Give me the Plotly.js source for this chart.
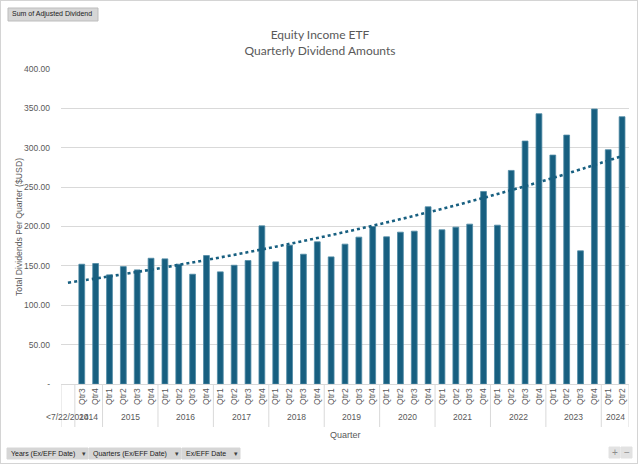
<!DOCTYPE html>
<html>
<head>
<meta charset="utf-8">
<script src="https://cdn.plot.ly/plotly-3.0.1.min.js"></script>
<style>
  html, body { margin: 0; padding: 0; background: #ffffff; }
  #wrap { position: relative; width: 640px; height: 465px; }
  #chart { width: 640px; height: 465px; }
  #frame { position: absolute; left: 0; top: 0; width: 636px; height: 462px; border: 1px solid #d4d4d4; pointer-events: none; }
</style>
</head>
<body>
<div id="wrap"><div id="chart"></div><div id="frame"></div></div>
<script>
// ---- data ----
const years = ['<7/22/2014', '2014', '2014',
  '2015', '2015', '2015', '2015',
  '2016', '2016', '2016', '2016',
  '2017', '2017', '2017', '2017',
  '2018', '2018', '2018', '2018',
  '2019', '2019', '2019', '2019',
  '2020', '2020', '2020', '2020',
  '2021', '2021', '2021', '2021',
  '2022', '2022', '2022', '2022',
  '2023', '2023', '2023', '2023',
  '2024', '2024'];
const quarters = ['', 'Qtr3', 'Qtr4',
  'Qtr1', 'Qtr2', 'Qtr3', 'Qtr4',
  'Qtr1', 'Qtr2', 'Qtr3', 'Qtr4',
  'Qtr1', 'Qtr2', 'Qtr3', 'Qtr4',
  'Qtr1', 'Qtr2', 'Qtr3', 'Qtr4',
  'Qtr1', 'Qtr2', 'Qtr3', 'Qtr4',
  'Qtr1', 'Qtr2', 'Qtr3', 'Qtr4',
  'Qtr1', 'Qtr2', 'Qtr3', 'Qtr4',
  'Qtr1', 'Qtr2', 'Qtr3', 'Qtr4',
  'Qtr1', 'Qtr2', 'Qtr3', 'Qtr4',
  'Qtr1', 'Qtr2'];
const dividends = [null, 152.1, 153.0,
  138.6, 149.1, 144.9, 159.7,
  158.9, 152.1, 139.4, 163.1,
  142.4, 150.8, 156.8, 200.8,
  155.1, 176.3, 164.8, 180.5,
  161.4, 177.6, 186.5, 200.0,
  186.9, 192.8, 194.1, 225.0,
  195.8, 199.2, 203.0, 244.5,
  201.7, 271.2, 308.5, 343.2,
  290.7, 316.1, 169.1, 349.2,
  297.5, 339.4];
// dotted trend line, read at every fifth category
const trendIndex = [0, 5, 10, 15, 20, 25, 30, 35, 40];
const trendValues = [128.6, 142.3, 157.5, 174.4, 193.0, 213.6, 236.4, 261.6, 289.5];
const yTickValues = [0, 50, 100, 150, 200, 250, 300, 350, 400];
const yTickLabels = ['-', '50.00', '100.00', '150.00', '200.00', '250.00', '300.00', '350.00', '400.00'];

const barColor = '#175f80';
const grey = '#595959';
const lineGrey = '#d9d9d9';
const font = 'Liberation Sans, Arial, sans-serif';

// unique category keys (one per year/quarter pair)
const keys = years.map((y, i) => y + '|' + quarters[i]);

const bars = {
  type: 'bar',
  x: keys,
  y: dividends,
  marker: { color: barColor, line: { color: '#4f8aa5', width: 0.8 } },
  width: 0.42,
  hoverinfo: 'y',
  showlegend: false
};
const trend = {
  type: 'scatter',
  mode: 'lines',
  x: trendIndex.map(i => keys[i]),
  y: trendValues,
  line: { color: barColor, width: 2.6, dash: 'dot', shape: 'spline' },
  hoverinfo: 'skip',
  showlegend: false
};

// plot area: x 61..629 px, y 69..384 px
const L = 61, R = 629, T = 69, B = 384;
const px = v => (v - L) / (R - L);
const py = v => (B - v) / (B - T);

// year groups -> labels and dividers
const groups = [];
years.forEach((y, i) => {
  if (!groups.length || groups[groups.length - 1].name !== y) groups.push({ name: y, start: i, end: i });
  else groups[groups.length - 1].end = i;
});

const shapes = [];
const annotations = [];
groups.forEach(g => {
  annotations.push({
    text: g.name, xref: 'x', yref: 'paper',
    x: (g.start + g.end) / 2, y: py(417), xanchor: 'center', yanchor: 'middle',
    showarrow: false, font: { family: font, size: 8.5, color: grey }
  });
  shapes.push({ type: 'line', xref: 'x', yref: 'paper', x0: g.start - 0.5, x1: g.start - 0.5,
    y0: py(384), y1: py(427), line: { color: lineGrey, width: 1 } });
});
shapes.push({ type: 'line', xref: 'x', yref: 'paper', x0: years.length - 0.5, x1: years.length - 0.5,
  y0: py(384), y1: py(427), line: { color: lineGrey, width: 1 } });

// axis titles
annotations.push({ text: 'Quarter', xref: 'paper', yref: 'paper', x: 0.5, y: py(435),
  xanchor: 'center', yanchor: 'middle', showarrow: false, font: { family: font, size: 9, color: grey } });
annotations.push({ text: 'Total Dividends Per Quarter ($USD)', xref: 'paper', yref: 'paper', x: px(19), y: py(227),
  xanchor: 'center', yanchor: 'middle', textangle: -90, showarrow: false, font: { family: font, size: 8.7, color: grey } });

// pivot-chart field buttons
function button(label, x0, x1, y0, y1, opts) {
  opts = opts || {};
  shapes.push({ type: 'rect', xref: 'paper', yref: 'paper', x0: px(x0), x1: px(x1), y0: py(y1), y1: py(y0),
    fillcolor: opts.fill || '#d6d6d6', line: { color: opts.border || '#d6d6d6', width: 1 } });
  annotations.push({ text: label, xref: 'paper', yref: 'paper', x: px(opts.tx != null ? opts.tx : x0 + 2), y: py((y0 + y1) / 2),
    xanchor: opts.anchor || 'left', yanchor: 'middle', showarrow: false,
    font: { family: font, size: opts.size || 7, color: opts.color || '#1a1a1a' } });
  if (opts.arrow) {
    annotations.push({ text: '\u25BE', xref: 'paper', yref: 'paper', x: px(x1 - 4.5), y: py((y0 + y1) / 2),
      xanchor: 'center', yanchor: 'middle', showarrow: false, font: { family: 'DejaVu Sans, sans-serif', size: 7, color: '#404040' } });
  }
}
button('Sum of Adjusted Dividend', 8, 98, 8, 21, { border: '#bdbdbd' });
button('Years (Ex/EFF Date)', 7, 88, 448, 459, { arrow: true });
button('Quarters (Ex/EFF Date)', 89, 181, 448, 459, { arrow: true });
button('Ex/EFF Date', 182, 240, 448, 459, { arrow: true });
button('+', 609, 620, 447, 458, { fill: '#e2e2e2', border: '#e2e2e2', tx: 614.5, anchor: 'center', size: 10, color: '#8c8c8c' });
button('\u2212', 621, 632, 447, 458, { fill: '#e2e2e2', border: '#e2e2e2', tx: 626.5, anchor: 'center', size: 10, color: '#8c8c8c' });

const layout = {
  width: 640, height: 465,
  margin: { l: L, r: 640 - R, t: T, b: 465 - B, pad: 0 },
  paper_bgcolor: '#ffffff', plot_bgcolor: '#ffffff',
  font: { family: font, color: grey },
  title: {
    text: 'Equity Income ETF<br>Quarterly Dividend Amounts',
    font: { family: 'Lato, Liberation Sans, sans-serif', size: 12, color: grey },
    x: 0.5, xanchor: 'center', y: 1 - 39 / 465, yanchor: 'middle'
  },
  xaxis: {
    type: 'category',
    categoryorder: 'array', categoryarray: keys,
    range: [-0.5, keys.length - 0.5],
    tickmode: 'array', tickvals: keys, ticktext: quarters,
    tickangle: -90,
    tickfont: { family: font, size: 8.5, color: grey },
    showline: true, linecolor: lineGrey, linewidth: 1,
    showgrid: false, ticks: '', zeroline: false,
    automargin: false
  },
  yaxis: {
    range: [0, 400],
    tickvals: yTickValues, ticktext: yTickLabels,
    tickfont: { family: font, size: 8.5, color: grey },
    showgrid: true, gridcolor: lineGrey, gridwidth: 1,
    zeroline: false, showline: false, ticks: '',
    ticklabelstandoff: 10,
    automargin: false
  },
  shapes: shapes,
  annotations: annotations
};

Plotly.newPlot('chart', [bars, trend], layout, { displayModeBar: false, staticPlot: true });
</script>
</body>
</html>
